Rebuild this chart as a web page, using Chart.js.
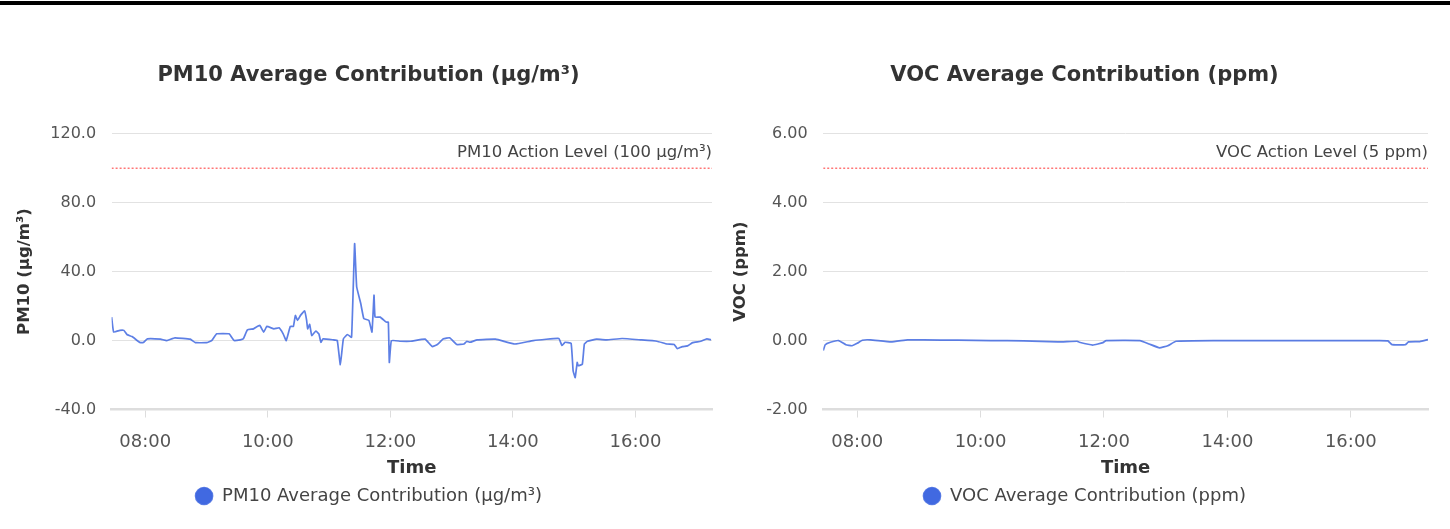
<!DOCTYPE html>
<html>
<head>
<meta charset="utf-8">
<script src="https://cdn.jsdelivr.net/npm/chart.js@4/dist/chart.umd.min.js"></script>
<style>
  html, body { margin: 0; padding: 0; background: #fff; }
  body { width: 1450px; height: 529px; position: relative; overflow: hidden; }
  #topbar { position: absolute; left: 0; top: 1px; width: 1450px; height: 4px; background: #000; }
  .box { position: absolute; top: 40px; width: 715px; height: 475px; }
  #left { left: 11px; }
  #right { left: 727px; }
</style>
</head>
<body>
<div id="topbar"></div>
<div class="box" id="left"><canvas id="pm10" width="715" height="475"></canvas></div>
<div class="box" id="right"><canvas id="voc" width="715" height="475"></canvas></div>
<script>
// ---------- DATA ----------
const pm10Times = ["07:27","07:29","07:35","07:39","07:42","07:47","07:55","07:58","08:02","08:15","08:21","08:29","08:44","08:49","09:00","09:05","09:10","09:22","09:27","09:33","09:36","09:40","09:46","09:52","09:56","09:59","10:06","10:11","10:15","10:18","10:22","10:25","10:27","10:29","10:32","10:36","10:38","10:39","10:41","10:43","10:47","10:50","10:52","10:54","11:04","11:08","11:11","11:14","11:18","11:22","11:25","11:27","11:31","11:34","11:39","11:42","11:44","11:45","11:50","11:56","11:58","11:59","12:01","12:10","12:20","12:34","12:41","12:46","12:52","12:58","13:05","13:12","13:15","13:18","13:25","13:43","14:02","14:20","14:45","14:48","14:51","14:57","14:59","15:01","15:03","15:04","15:08","15:10","15:13","15:22","15:32","15:47","16:05","16:21","16:31","16:38","16:41","16:46","16:51","16:56","17:04","17:10","17:14"];
const pm10Values = [13.6,4.9,5.9,5.9,3.5,2.3,-1.2,-1.2,1.0,0.8,0.0,1.6,0.8,-1.2,-1.2,0.0,3.9,3.9,0.0,0.4,1.0,6.2,6.8,8.8,4.9,8.2,6.8,7.4,3.9,0.0,8.2,8.2,14.6,11.7,14.6,17.2,11.7,6.8,9.4,2.9,5.5,3.9,-1.0,1.0,0.4,0.0,-14.0,1.0,3.5,1.9,56.2,31.2,21.5,12.7,11.7,4.9,26.3,13.6,13.6,10.7,10.7,-12.7,0.0,-0.4,-0.4,0.8,-3.5,-2.3,1.0,1.6,-2.3,-2.0,-0.4,-1.0,0.4,0.8,-2.0,0.0,1.2,-2.9,-1.0,-1.6,-17.6,-21.5,-12.7,-14.6,-13.7,-2.0,-0.4,0.8,0.4,1.2,0.4,-0.4,-2.0,-2.3,-4.7,-3.5,-3.1,-1.2,-0.4,1.0,0.4];

const vocTimes = ["07:27","07:29","07:34","07:42","07:49","07:55","08:00","08:05","08:13","08:33","08:49","09:05","09:38","10:10","10:42","11:15","11:34","11:36","11:49","11:59","12:02","12:35","12:44","12:54","13:02","13:10","13:46","15:10","16:28","16:36","16:40","16:53","16:56","17:07","17:15"];
const vocValues = [-0.29,-0.12,-0.05,0.0,-0.12,-0.15,-0.08,0.01,0.02,-0.04,0.02,0.02,0.01,0.0,-0.01,-0.04,-0.02,-0.05,-0.13,-0.06,0.0,0.0,-0.1,-0.21,-0.15,-0.02,0.0,0.0,0.0,-0.01,-0.12,-0.12,-0.04,-0.03,0.03];

const xTickLabels = ["08:00","10:00","12:00","14:00","16:00"];
const xRange = ["07:27","17:15"];

const pm10Ticks = [-40, 0, 40, 80, 120];
const vocTicks = [-2, 0, 2, 4, 6];
const pm10Action = 100;
const vocAction = 5;

// ---------- HELPERS ----------
function toMin(s) { const p = s.split(":"); return (+p[0]) * 60 + (+p[1]); }
function fmtMin(v) { const h = Math.floor(v / 60), m = Math.round(v % 60); return String(h).padStart(2, "0") + ":" + String(m).padStart(2, "0"); }

const FONT = "'DejaVu Sans', sans-serif";
Chart.defaults.font.family = FONT;
Chart.defaults.color = "#555";

const actionLabelPlugin = {
  id: "actionLabel",
  afterDatasetsDraw(chart, args, opts) {
    const { ctx, chartArea, scales } = chart;
    const y = scales.y.getPixelForValue(opts.value);
    ctx.save();
    ctx.font = "16.5px " + FONT;
    ctx.fillStyle = "#444";
    ctx.textAlign = "right";
    ctx.textBaseline = "middle";
    ctx.fillText(opts.text, chartArea.right, y - 15);
    ctx.restore();
  }
};

function makeChart(id, cfg) {
  const xMin = toMin(xRange[0]), xMax = toMin(xRange[1]);
  const pts = cfg.times.map((t, i) => ({ x: toMin(t), y: cfg.values[i] }));
  return new Chart(document.getElementById(id), {
    type: "line",
    data: {
      datasets: [
        {
          label: cfg.label,
          data: pts,
          xAxisID: "x",
          yAxisID: "y",
          borderColor: "rgba(65,105,225,0.85)",
          backgroundColor: "#4169E1",
          borderWidth: 1.7,
          pointRadius: 0,
          tension: 0.1,
          fill: false
        },
        {
          label: "action",
          data: [{ x: xMin, y: cfg.action }, { x: xMax, y: cfg.action }],
          xAxisID: "x",
          yAxisID: "y",
          borderColor: "rgba(255,0,0,0.8)",
          borderWidth: 1,
          borderDash: [2, 2],
          pointRadius: 0,
          fill: false
        }
      ]
    },
    options: {
      responsive: false,
      animation: false,
      layout: { padding: 0 },
      plugins: {
        title: {
          display: true,
          text: cfg.title,
          color: "#333",
          font: { size: 21, weight: "bold", family: FONT },
          padding: { top: 23, bottom: 45.5 }
        },
        legend: {
          position: "bottom",
          labels: {
            filter: (item) => item.datasetIndex === 0,
            usePointStyle: true,
            pointStyle: "circle",
            boxHeight: 12,
            color: "#444",
            font: { size: 18, family: FONT },
            padding: 8
          }
        },
        tooltip: { enabled: false },
        actionLabel: { value: cfg.action, text: cfg.actionText }
      },
      scales: {
        x: {
          type: "linear",
          min: xMin,
          max: xMax,
          afterBuildTicks: (axis) => { axis.ticks = xTickLabels.map(s => ({ value: toMin(s) })); },
          ticks: { callback: (v) => fmtMin(v), color: "#555", font: { size: 18 }, maxRotation: 0, padding: 14 },
          grid: { drawOnChartArea: false, color: "#ddd", tickLength: 8 },
          border: { display: true, color: "#ddd", width: 2.5 },
          title: { display: true, text: "Time", color: "#333", font: { size: 18, weight: "bold" }, padding: { top: -9.7, bottom: 0 } }
        },
        y: {
          position: "left",
          min: cfg.ticks[0],
          max: cfg.ticks[cfg.ticks.length - 1],
          afterBuildTicks: (axis) => { axis.ticks = cfg.ticks.map(v => ({ value: v })); },
          ticks: { callback: (v) => v.toFixed(cfg.decimals), color: "#555", font: { size: 16 }, padding: 15.5 },
          grid: { drawTicks: false, color: "#e2e2e2" },
          border: { display: false },
          title: { display: true, text: cfg.yTitle, color: "#333", font: { size: 16.5, weight: "bold" }, padding: { top: 4, bottom: 0 } }
        },
        yr: {
          position: "right",
          display: true,
          grid: { display: false, drawTicks: false },
          border: { display: false },
          ticks: { display: false },
          afterFit: (s) => { s.width = 14; }
        }
      }
    },
    plugins: [actionLabelPlugin]
  });
}

makeChart("pm10", {
  times: pm10Times, values: pm10Values, action: pm10Action, ticks: pm10Ticks, decimals: 1,
  label: "PM10 Average Contribution (µg/m³)",
  title: "PM10 Average Contribution (µg/m³)",
  yTitle: "PM10 (µg/m³)",
  actionText: "PM10 Action Level (100 µg/m³)"
});
makeChart("voc", {
  times: vocTimes, values: vocValues, action: vocAction, ticks: vocTicks, decimals: 2,
  label: "VOC Average Contribution (ppm)",
  title: "VOC Average Contribution (ppm)",
  yTitle: "VOC (ppm)",
  actionText: "VOC Action Level (5 ppm)"
});
</script>
</body>
</html>
